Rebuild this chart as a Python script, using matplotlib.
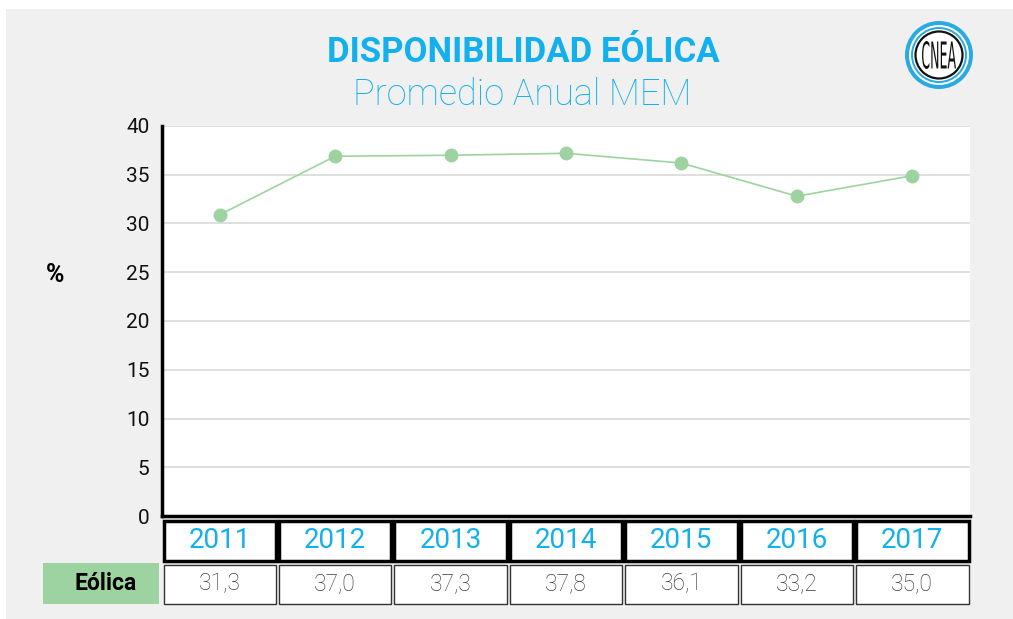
import matplotlib
matplotlib.use("Agg")
import matplotlib.pyplot as plt
from matplotlib.patches import Rectangle, Circle, PathPatch
from matplotlib.textpath import TextPath
from matplotlib.font_manager import FontProperties
from matplotlib.transforms import Affine2D

# ---- data ----
years = ["2011", "2012", "2013", "2014", "2015", "2016", "2017"]
eolica_plot = [30.9, 36.9, 37.0, 37.2, 36.2, 32.8, 34.9]   # as drawn in the chart
eolica_table = ["31,3", "37,0", "37,3", "37,8", "36,1", "33,2", "35,0"]  # table labels
yticks = [0, 5, 10, 15, 20, 25, 30, 35, 40]
title = "DISPONIBILIDAD EÓLICA"
subtitle = "Promedio Anual MEM"
row_label = "Eólica"
logo_text = "CNEA"

BLUE = "#12b0ec"
LOGO_BLUE = "#29abe2"
GREEN = "#9dd3a0"
BG = "#f0f0f0"
FONT = ["Roboto", "DejaVu Sans"]
plt.rcParams["font.family"] = FONT

W, H = 1013, 619
fig = plt.figure(figsize=(W / 100, H / 100), dpi=100)
fig.patch.set_facecolor("white")

# background overlay axes in pixel coords
bg = fig.add_axes([0, 0, 1, 1])
bg.set_xlim(0, W)
bg.set_ylim(H, 0)
bg.axis("off")
bg.add_patch(Rectangle((6, 9), W, H, facecolor=BG, edgecolor="none"))

# main plot axes
L, R, T, B = 162, 970, 126, 516
ax = fig.add_axes([L / W, (H - B) / H, (R - L) / W, (B - T) / H])
ax.set_facecolor("white")
x = list(range(len(years)))
ax.plot(x, eolica_plot, color=GREEN, lw=1.2, marker="o", ms=9, mec=GREEN, mfc=GREEN, zorder=3)
ax.set_xlim(-0.5, len(years) - 0.5)
ax.set_ylim(0, 40)
ax.set_yticks(yticks)
ax.set_yticklabels([str(v) for v in yticks], fontsize=15, color="#111111")
ax.set_xticks([])
ax.tick_params(axis="y", length=0, pad=9)
ax.grid(axis="y", color="#d9d9d9", lw=1.2)
ax.set_axisbelow(True)
for s in ["top", "right"]:
    ax.spines[s].set_visible(False)
for s in ["left", "bottom"]:
    ax.spines[s].set_linewidth(2.5)
    ax.spines[s].set_color("black")

# titles
fig.text(523 / W, 1 - 52 / H, title, ha="center", va="center", fontsize=25,
         fontweight="bold", color=BLUE)
fig.text(522 / W, 1 - 95 / H, subtitle, ha="center", va="center", fontsize=26,
         fontweight="light", color=BLUE)
fig.text(55 / W, 1 - 275 / H, "%", ha="center", va="center", fontsize=18,
         fontweight="bold", color="black")

# table
colw = (R - L) / len(years)
gap = 1.5
for i, (yr, val) in enumerate(zip(years, eolica_table)):
    x0 = L + i * colw + gap
    w = colw - 2 * gap
    bg.add_patch(Rectangle((x0, 521), w, 40, facecolor="white", edgecolor="black", lw=2.5))
    bg.text(x0 + w / 2, 541, yr, ha="center", va="center", fontsize=20, color=BLUE)
    bg.add_patch(Rectangle((x0, 565), w, 39, facecolor="white", edgecolor="#333333", lw=1.0))
    bg.text(x0 + w / 2, 584, val, ha="center", va="center", fontsize=16.5,
            fontweight="light", color="#3a3a3a")
bg.add_patch(Rectangle((43, 563), 116, 41, facecolor=GREEN, edgecolor="none"))
bg.text(106, 583, row_label, ha="center", va="center", fontsize=16.5, fontweight="bold",
        color="black")

# logo
cx, cy = 939, 55
bg.add_patch(Circle((cx, cy), 34, facecolor=LOGO_BLUE, edgecolor="none"))
bg.add_patch(Circle((cx, cy), 30, facecolor="white", edgecolor="none"))
bg.add_patch(Circle((cx, cy), 28, facecolor=LOGO_BLUE, edgecolor="none"))
bg.add_patch(Circle((cx, cy), 26, facecolor="white", edgecolor="none"))
bg.add_patch(Circle((cx, cy), 23.5, facecolor="white", edgecolor="#111111", lw=1.6))
tp = TextPath((0, 0), logo_text, size=10, prop=FontProperties(family="DejaVu Sans"))
bb = tp.get_extents()
tw, th = 34, 28
tr = (Affine2D().translate(-bb.x0 - bb.width / 2, -bb.y0 - bb.height / 2)
      .scale(tw / bb.width, -th / bb.height).translate(cx, cy))
bg.add_patch(PathPatch(tr.transform_path(tp), facecolor="#111111", edgecolor="none"))

fig.savefig("out.png", dpi=100, facecolor=fig.get_facecolor())
